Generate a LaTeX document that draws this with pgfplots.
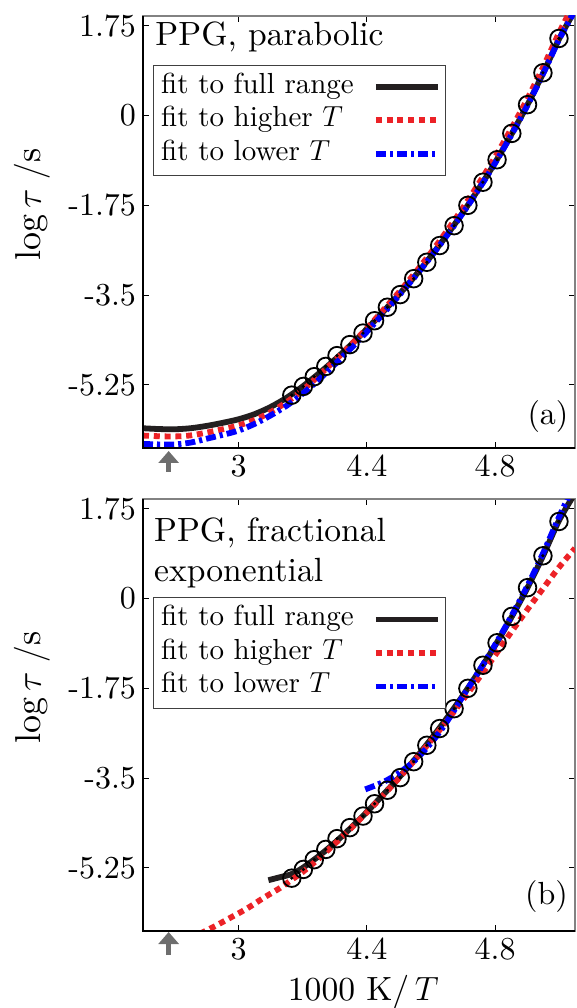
\documentclass[border=0pt]{standalone}
\usepackage{fix-cm}
\usepackage{fontspec}
\setmainfont{lmroman10-regular}[Extension=.otf, ItalicFont=lmroman10-italic, BoldFont=lmroman10-bold, BoldItalicFont=lmroman10-bolditalic]
\usepackage{pgfplots}
\pgfplotsset{compat=1.18}
\usepackage{pgfplotstable}
\usetikzlibrary{arrows.meta}
\definecolor{fitblack}{RGB}{35,31,32}
\definecolor{fitred}{RGB}{236,34,39}
\definecolor{fitblue}{RGB}{0,0,255}
\definecolor{arrowgray}{RGB}{110,110,110}
\definecolor{boxgray}{RGB}{130,130,130}

\pgfplotstableread{
x y
4.166 -5.45
4.202 -5.28
4.236 -5.09
4.272 -4.89
4.307 -4.68
4.347 -4.465
4.388 -4.24
4.424 -4.00
4.464 -3.736
4.504 -3.49
4.546 -3.18
4.587 -2.86
4.627 -2.534
4.672 -2.147
4.715 -1.75
4.762 -1.30
4.806 -0.862
4.852 -0.348
4.901 0.212
4.949 0.833
4.999 1.502
}\meas

\pgfplotstableread{
x y
3.702 -6.095
3.75 -6.11
3.80 -6.115
3.85 -6.095
3.90 -6.05
3.95 -5.99
4.00 -5.92
4.05 -5.82
4.10 -5.68
4.15 -5.50
4.20 -5.28
4.25 -5.03
4.30 -4.76
4.35 -4.47
4.40 -4.16
4.45 -3.83
4.50 -3.49
4.55 -3.13
4.60 -2.74
4.65 -2.325
4.70 -1.885
4.75 -1.415
4.80 -0.915
4.85 -0.375
4.90 0.20
4.95 0.83
5.00 1.50
5.049 2.05
}\afull

\pgfplotstableread{
x y
3.702 -6.238
3.75 -6.25
3.80 -6.255
3.85 -6.235
3.90 -6.18
3.95 -6.115
4.00 -6.04
4.05 -5.935
4.10 -5.78
4.15 -5.585
4.20 -5.35
4.25 -5.07
4.30 -4.775
4.35 -4.47
4.40 -4.15
4.45 -3.80
4.50 -3.445
4.55 -3.07
4.60 -2.67
4.65 -2.245
4.70 -1.795
4.75 -1.315
4.80 -0.805
4.85 -0.26
4.90 0.32
4.95 0.95
5.00 1.62
5.049 2.22
}\ahigh

\pgfplotstableread{
x y
3.702 -6.40
3.75 -6.41
3.80 -6.41
3.85 -6.375
3.90 -6.30
3.95 -6.225
4.00 -6.14
4.05 -6.01
4.10 -5.845
4.15 -5.655
4.20 -5.42
4.25 -5.15
4.30 -4.85
4.35 -4.54
4.40 -4.215
4.45 -3.87
4.50 -3.51
4.55 -3.14
4.60 -2.75
4.65 -2.335
4.70 -1.895
4.75 -1.425
4.80 -0.925
4.85 -0.385
4.90 0.19
4.95 0.82
5.00 1.49
5.049 2.05
}\alow

\pgfplotstableread{
x y
4.093 -5.49
4.13 -5.43
4.165 -5.37
4.20 -5.25
4.25 -5.02
4.30 -4.76
4.35 -4.47
4.40 -4.16
4.45 -3.83
4.50 -3.49
4.55 -3.13
4.60 -2.74
4.65 -2.325
4.70 -1.885
4.75 -1.415
4.80 -0.915
4.85 -0.375
4.90 0.20
4.95 0.84
5.00 1.53
5.049 2.05
}\bfull

\pgfplotstableread{
x y
3.88 -6.53
3.922 -6.40
3.974 -6.223
4.026 -6.043
4.078 -5.834
4.130 -5.639
4.171 -5.457
4.20 -5.33
4.25 -5.07
4.30 -4.78
4.35 -4.48
4.40 -4.17
4.45 -3.84
4.50 -3.50
4.55 -3.145
4.60 -2.77
4.65 -2.38
4.70 -1.97
4.75 -1.545
4.80 -1.105
4.85 -0.655
4.90 -0.22
4.95 0.20
5.00 0.615
5.049 0.98
}\bhigh

\pgfplotstableread{
x y
4.395 -3.72
4.43 -3.635
4.46 -3.55
4.50 -3.40
4.54 -3.21
4.58 -2.96
4.62 -2.66
4.66 -2.30
4.70 -1.90
4.75 -1.41
4.80 -0.90
4.85 -0.35
4.90 0.24
4.95 0.89
5.00 1.60
5.049 2.25
}\blow

\pgfplotsset{
  legend image code/.code={\draw[#1] (0pt,0pt) -- (31pt,0pt);},
  panel/.style={
    width=216pt, height=216pt, scale only axis,
    xmin=3.702, xmax=5.049, ymin=-6.48, ymax=1.94,
    xtick={4.0,4.4,4.8}, xticklabels={3,4.4,4.8},
    ytick={-5.25,-3.5,-1.75,0,1.75},
    yticklabels={-5.25,-3.5,-1.75,0,1.75},
    tick align=inside, major tick length=3pt,
    tick style={black, line width=0.5pt},
    tick label style={font=\fontsize{16}{19}\selectfont},
    axis line style={draw=boxgray, line width=0.6pt},
    clip mode=individual,
    legend plot pos=right,
    legend cell align=left,
    legend style={draw=black!75, line width=0.5pt, fill=white,
      inner sep=2.4pt, font=\fontsize{14.5}{17}\selectfont,
      column sep=8pt,
      nodes={inner sep=1.5pt, text height=10pt, text depth=3.75pt},
      anchor=north west},
  },
  fullfit/.style={fitblack, line width=2.9pt, smooth},
  highfit/.style={fitred, line width=2.9pt, smooth, dash pattern=on 3pt off 2.4pt},
  lowfit/.style={fitblue, line width=2.9pt, smooth, dash pattern=on 5pt off 2pt on 1.6pt off 2pt},
  meascirc/.style={only marks, mark=o, mark size=4.4pt, black, mark options={line width=0.9pt}},
  measdot/.style={only marks, mark=*, mark size=0.6pt, black},
}

\begin{document}
\begin{tikzpicture}
% panel (a)
\begin{axis}[panel, at={(0,241.5pt)},
  legend style={at={(axis description cs:0.023,0.887)}}]
\addplot[fullfit] table {\afull};
\addlegendentry{fit to full range}
\addplot[highfit] table {\ahigh};
\addlegendentry{fit to higher $T$}
\addplot[lowfit] table {\alow};
\addlegendentry{fit to lower $T$}
\addplot[meascirc, forget plot] table {\meas};
\addplot[measdot, forget plot] table {\meas};
\draw[black, line width=0.6pt] (rel axis cs:0,1) -- (rel axis cs:0,0) -- (rel axis cs:1,0);
\node[anchor=base west, inner sep=0pt, font=\fontsize{16.8}{20}\selectfont] at (axis description cs:0.028,0.932) {PPG, parabolic};
\node[font=\fontsize{16}{19}\selectfont] at (axis description cs:0.9375,0.072) {(a)};
\node[rotate=90, anchor=center, font=\fontsize{18}{22}\selectfont] at (axis description cs:-0.257,0.563) {$\log\tau\;/\mathrm{s}$};
\draw[arrowgray, line width=2.3pt, -{Triangle[length=6pt,width=10pt]}] ([yshift=-12pt]axis cs:3.782,-6.48) -- ([yshift=-1.5pt]axis cs:3.782,-6.48);
\end{axis}
% panel (b)
\begin{axis}[panel, at={(0,0)},
  legend style={at={(axis description cs:0.023,0.772)}}]
\addplot[fullfit] table {\bfull};
\addlegendentry{fit to full range}
\addplot[highfit] table {\bhigh};
\addlegendentry{fit to higher $T$}
\addplot[lowfit] table {\blow};
\addlegendentry{fit to lower $T$}
\addplot[meascirc, forget plot] table {\meas};
\addplot[measdot, forget plot] table {\meas};
\draw[black, line width=0.6pt] (rel axis cs:0,1) -- (rel axis cs:0,0) -- (rel axis cs:1,0);
\node[anchor=base west, inner sep=0pt, font=\fontsize{16.8}{20}\selectfont] at (axis description cs:0.025,0.901) {PPG, fractional};
\node[anchor=base west, inner sep=0pt, font=\fontsize{16.8}{20}\selectfont] at (axis description cs:0.025,0.810) {exponential};
\node[font=\fontsize{16}{19}\selectfont] at (axis description cs:0.934,0.081) {(b)};
\node[rotate=90, anchor=center, font=\fontsize{18}{22}\selectfont] at (axis description cs:-0.257,0.563) {$\log\tau\;/\mathrm{s}$};
\node[font=\fontsize{16.8}{20}\selectfont] at (axis description cs:0.51,-0.1406) {1000 K/\,$T$};
\draw[arrowgray, line width=2.3pt, -{Triangle[length=6pt,width=10pt]}] ([yshift=-12pt]axis cs:3.782,-6.48) -- ([yshift=-0.5pt]axis cs:3.782,-6.48);
\end{axis}
\pgfresetboundingbox
\path (-71.5pt,-38.5pt) rectangle (217pt,465.5pt);
\end{tikzpicture}
\end{document}
